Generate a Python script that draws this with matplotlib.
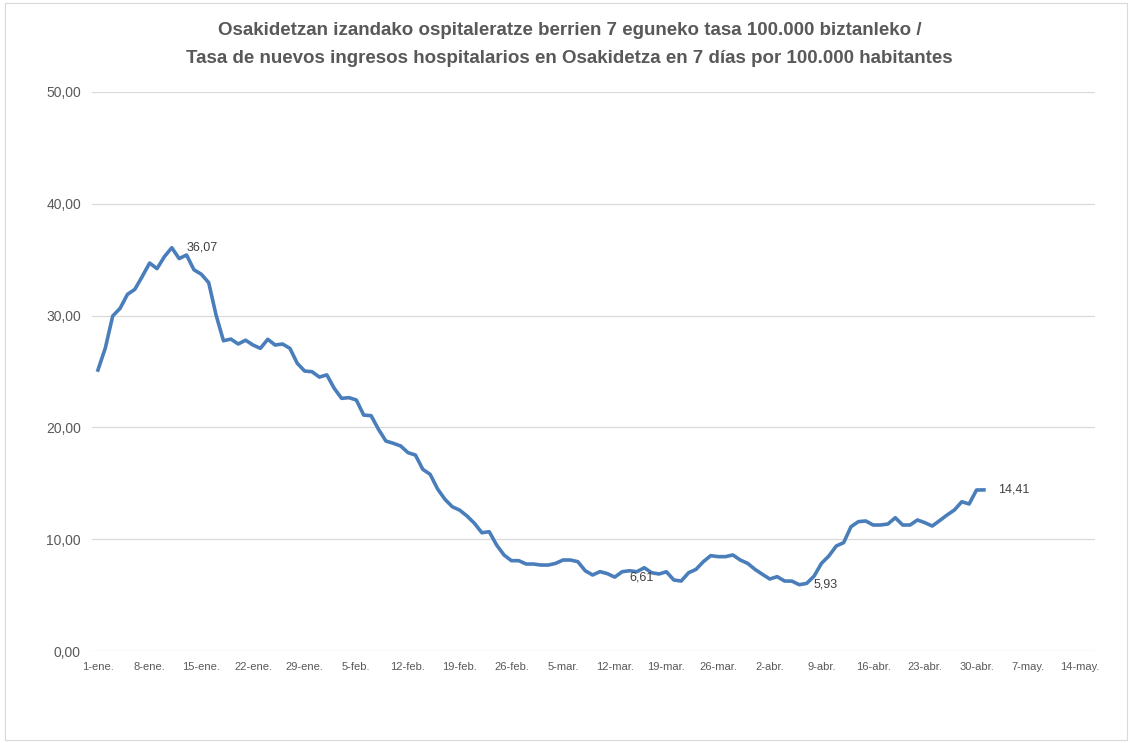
import numpy as np
import matplotlib
matplotlib.use("Agg")
import matplotlib.pyplot as plt
from matplotlib.patches import Rectangle

# tasa diaria, 1-ene .. 1-may
tasa = [25.13, 27.1, 29.96, 30.65, 31.9, 32.35, 33.5, 34.7, 34.2, 35.27,
        36.07, 35.1, 35.42, 34.1, 33.7, 32.95, 30.05, 27.75, 27.9, 27.46,
        27.8, 27.37, 27.07, 27.88, 27.37, 27.46, 27.07, 25.73, 25.04, 24.98,
        24.5, 24.7, 23.5, 22.6, 22.66, 22.45, 21.1, 21.05, 19.83, 18.78,
        18.58, 18.34, 17.74, 17.53, 16.25, 15.8, 14.5, 13.57, 12.9, 12.6,
        12.07, 11.42, 10.58, 10.67, 9.48, 8.59, 8.08, 8.08, 7.78, 7.78,
        7.69, 7.69, 7.84, 8.14, 8.14, 7.99, 7.18, 6.8, 7.1, 6.92,
        6.61, 7.09, 7.18, 7.09, 7.45, 7.0, 6.89, 7.09, 6.35, 6.26,
        7.0, 7.3, 7.99, 8.53, 8.44, 8.44, 8.59, 8.14, 7.84, 7.3,
        6.86, 6.44, 6.65, 6.26, 6.25, 5.93, 6.05, 6.7, 7.84, 8.5,
        9.39, 9.69, 11.12, 11.57, 11.63, 11.27, 11.27, 11.36, 11.92, 11.27,
        11.27, 11.72, 11.48, 11.18, 11.66, 12.16, 12.61, 13.35, 13.15, 14.4,
        14.41]

tick_labels = ["1-ene.", "8-ene.", "15-ene.", "22-ene.", "29-ene.", "5-feb.",
               "12-feb.", "19-feb.", "26-feb.", "5-mar.", "12-mar.", "19-mar.",
               "26-mar.", "2-abr.", "9-abr.", "16-abr.", "23-abr.", "30-abr.",
               "7-may.", "14-may."]

# puntos etiquetados (indice de dia)
etiquetas = [10, 70, 95, 120]

titulo = ("Osakidetzan izandako ospitaleratze berrien 7 eguneko tasa 100.000 biztanleko /\n"
          "Tasa de nuevos ingresos hospitalarios en Osakidetza en 7 días por 100.000 habitantes")

plt.rcParams['font.family'] = ['Liberation Sans', 'DejaVu Sans']

dias = np.arange(len(tasa))
gris = "#595959"

fig = plt.figure(figsize=(11.32, 7.43), dpi=100)
fig.patches.append(Rectangle((0.004, 0.004), 0.992, 0.992, transform=fig.transFigure,
                             fill=False, edgecolor="#d9d9d9", linewidth=0.8))
ax = fig.add_axes([0.0813, 0.1238, 0.8857, 0.7524])

ax.plot(dias, tasa, color="#4a7ebb", linewidth=2.6, solid_joinstyle="round", zorder=3)

for i in etiquetas:
    ax.annotate(f"{tasa[i]:.2f}".replace(".", ","), (dias[i], tasa[i]),
                xytext=(10.5, 0), textcoords="offset points",
                ha="left", va="center", fontsize=9, color="#404040")

ax.set_ylim(0, 50)
ax.set_xlim(-0.8, 135)
ax.set_yticks(np.arange(0, 51, 10))
ax.set_yticklabels([f"{v:.2f}".replace(".", ",") for v in np.arange(0, 51, 10)],
                   fontsize=10, color=gris)
ax.set_xticks(np.arange(0, 7 * len(tick_labels), 7))
ax.set_xticklabels(tick_labels, fontsize=8, color=gris)
ax.tick_params(axis="both", length=0)
ax.tick_params(axis="y", pad=8)
ax.tick_params(axis="x", pad=8)
ax.grid(axis="y", color="#d9d9d9", linewidth=0.9)
ax.set_axisbelow(True)
for s in ax.spines.values():
    s.set_visible(False)

fig.text(0.503, 0.940, titulo, ha="center", va="center", fontsize=13.5,
         fontweight="bold", color=gris, linespacing=1.82)

fig.savefig("out.png", dpi=100)
